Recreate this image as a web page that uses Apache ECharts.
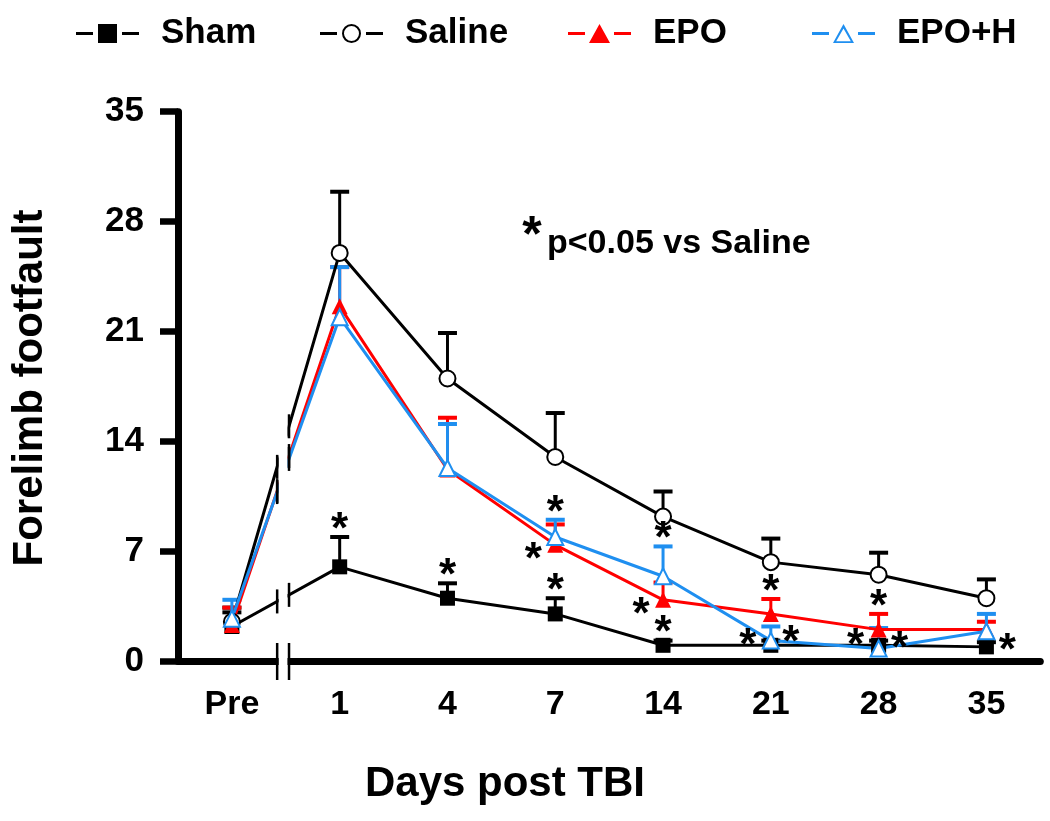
<!DOCTYPE html>
<html><head><meta charset="utf-8">
<script src="https://cdn.jsdelivr.net/npm/echarts@6/dist/echarts.min.js"></script>
<style>html,body{margin:0;padding:0;background:#fff}#chart{width:1050px;height:821px}</style>
</head><body><div id="chart"></div>
<script>
// ---- data ----
const categories = ['Pre', '1', '4', '7', '14', '21', '28', '35'];
const shamMean   = [2.2, 6.0, 4.0, 3.0, 1.0, 1.0, 1.0, 0.9];
const shamErr    = [0.9, 1.9, 0.95, 1.0, 0.3, 0.3, 0.3, 0.3];
const salineMean = [2.5, 26.0, 18.0, 13.0, 9.2, 6.3, 5.5, 4.0];
const salineErr  = [0.9, 3.9, 2.9, 2.8, 1.6, 1.5, 1.4, 1.2];
const epoMean    = [2.3, 22.6, 12.2, 7.4, 3.9, 3.0, 2.0, 2.0];
const epoErr     = [1.1, 2.5, 3.3, 1.3, 1.1, 0.95, 1.0, 0.5];
const epohMean   = [2.7, 21.9, 12.3, 7.9, 5.4, 1.3, 0.8, 1.9];
const epohErr    = [1.2, 3.2, 2.8, 1.1, 1.9, 0.9, 1.3, 1.1];
const yMin = 0, yMax = 35, yInterval = 7;
// significance markers: [category index, group, placement]
const stars = [
  [1, 'sham', 'above'],
  [2, 'sham', 'above'],
  [3, 'sham', 'above'], [3, 'epoh', 'above'], [3, 'epo', 'left'],
  [4, 'epoh', 'above'], [4, 'epo', 'left'], [4, 'sham', 'above'],
  [5, 'epo', 'above'], [5, 'sham', 'sideLeft'], [5, 'sham', 'sideRight'],
  [6, 'epo', 'above'], [6, 'sham', 'sideLeft'], [6, 'sham', 'right'],
  [7, 'sham', 'right']
];
const breakAt = [0.42, 0.53]; // axis break between Pre and day 1 (fraction of step)

// ---- styling ----
const FONT = '"Liberation Sans", Arial, sans-serif';
const DASHES = 'M0,8.5H17V11.5H0Z M46,8.5H63V11.5H46Z ';
const groups = [
  { key: 'sham',   name: 'Sham',   mean: shamMean,   err: shamErr,   color: '#000000', symbol: 'rect',          size: 15, bw: 0,
    icon: 'path://' + DASHES + 'M22,0.5H41V19.5H22Z' },
  { key: 'saline', name: 'Saline', mean: salineMean, err: salineErr, color: '#000000', symbol: 'emptyCircle',   size: 16, bw: 2,
    icon: 'path://' + DASHES + 'M22,10A9.5,9.5 0 1,0 41,10A9.5,9.5 0 1,0 22,10Z M24,10A7.5,7.5 0 1,1 39,10A7.5,7.5 0 1,1 24,10Z' },
  { key: 'epo',    name: 'EPO',    mean: epoMean,    err: epoErr,    color: '#ff0000', symbol: 'triangle',      size: 16, bw: 0,
    icon: 'path://' + DASHES + 'M31.5,0.5L42,19.5H21Z' },
  { key: 'epoh',   name: 'EPO+H',  mean: epohMean,   err: epohErr,   color: '#1f8ff0', symbol: 'emptyTriangle', size: 16, bw: 2,
    icon: 'path://' + DASHES + 'M31.5,0.5L42,19.5H21Z M31.5,5L24.2,17.8H38.8Z' }
];
const byKey = {}; groups.forEach(g => byKey[g.key] = g);
const legendLeft = [76, 320, 568, 812];
// pixel offsets of a star relative to its anchor (error-bar top for 'above', point otherwise)
const PLACE = { above: [0, -16], left: [-22, 6], right: [21, -5], sideLeft: [-23, -8], sideRight: [20, -11] };

const chart = echarts.init(document.getElementById('chart'));

const errSeries = groups.map(g => ({
  type: 'custom', name: g.name + ' err', z: 1, silent: true, animation: false,
  data: g.mean.map((m, i) => [i, m, m + g.err[i]]),
  renderItem(params, api) {
    const i = api.value(0);
    const p0 = api.coord([i, api.value(1)]);
    const p1 = api.coord([i, api.value(2)]);
    return { type: 'group', children: [
      { type: 'line', shape: { x1: p0[0], y1: p0[1], x2: p1[0], y2: p1[1] }, style: { stroke: g.color, lineWidth: 3 } },
      { type: 'line', shape: { x1: p1[0] - 9.5, y1: p1[1], x2: p1[0] + 9.5, y2: p1[1] }, style: { stroke: g.color, lineWidth: 4 } }
    ] };
  }
}));

const lineSeries = groups.map(g => ({
  type: 'line', name: g.name, data: g.mean, z: 3, animation: false,
  symbol: g.symbol, symbolSize: g.size, showAllSymbol: true,
  lineStyle: { color: g.color, width: 3 },
  itemStyle: { color: g.color, borderColor: g.color, borderWidth: g.bw }
}));

const breakSeries = {
  type: 'custom', z: 10, silent: true, animation: false, data: [[0, 0]],
  renderItem(params, api) {
    const b0 = api.coord([0, yMin]), b1 = api.coord([1, yMin]);
    const xL = b0[0] + breakAt[0] * (b1[0] - b0[0]);
    const xR = b0[0] + breakAt[1] * (b1[0] - b0[0]);
    const topY = api.coord([0, yMax])[1];
    const ch = [];
    ch.push({ type: 'rect', shape: { x: xL + 1.5, y: topY, width: xR - xL - 3, height: b0[1] + 22 - topY }, style: { fill: '#fff' } });
    [xL, xR].forEach(x => ch.push({ type: 'line', shape: { x1: x, y1: b0[1] - 18, x2: x, y2: b0[1] + 19 }, style: { stroke: '#000', lineWidth: 2.5 } }));
    groups.forEach(g => {
      const a = api.coord([0, g.mean[0]]), b = api.coord([1, g.mean[1]]);
      breakAt.forEach((f, k) => {
        const x = k ? xR : xL;
        const y = a[1] + f * (b[1] - a[1]);
        ch.push({ type: 'line', shape: { x1: x, y1: y - 12, x2: x, y2: y + 12 }, style: { stroke: '#000', lineWidth: 2.5 } });
      });
    });
    return { type: 'group', children: ch };
  }
};

const STAR_SIZE = 44;
const starSeries = {
  type: 'custom', z: 11, silent: true, animation: false,
  data: stars.map(s => [s[0], 0]),
  renderItem(params, api) {
    const s = stars[params.dataIndex];
    const g = byKey[s[1]], i = s[0];
    const anchor = s[2] === 'above' ? api.coord([i, g.mean[i] + g.err[i]]) : api.coord([i, g.mean[i]]);
    const off = PLACE[s[2]];
    return { type: 'text', x: anchor[0] + off[0], y: anchor[1] + off[1] + 0.22 * STAR_SIZE,
      style: { text: '*', fontSize: STAR_SIZE, fontWeight: 'bold', fontFamily: FONT, fill: '#000', align: 'center', verticalAlign: 'middle' } };
  }
};

chart.setOption({
  animation: false,
  backgroundColor: '#fff',
  grid: { left: 178, top: 111.7, right: 9.7, bottom: 160, containLabel: false },
  legend: groups.map((g, k) => ({
    data: [g.name], left: legendLeft[k], top: 16, padding: 0, itemWidth: 63, itemHeight: 20,
    icon: g.icon, selectedMode: false,
    itemStyle: { borderWidth: 0 },
    textStyle: { fontSize: 35, fontWeight: 'bold', fontFamily: FONT, color: '#000', padding: [0, 0, 0, 17] }
  })),
  xAxis: {
    type: 'category', data: categories, boundaryGap: true,
    axisLine: { lineStyle: { color: '#000', width: 7 } },
    axisTick: { alignWithLabel: true, length: 16, lineStyle: { color: '#000', width: 7 } },
    axisLabel: { margin: 27, color: '#000', fontSize: 34, fontWeight: 'bold', fontFamily: FONT },
    splitLine: { show: false }
  },
  yAxis: {
    type: 'value', min: yMin, max: yMax, interval: yInterval,
    axisLine: { show: true, lineStyle: { color: '#000', width: 7 } },
    axisTick: { show: true, length: 18, lineStyle: { color: '#000', width: 6.5 } },
    axisLabel: { margin: 34, color: '#000', fontSize: 35, fontWeight: 'bold', fontFamily: FONT },
    splitLine: { show: false }
  },
  graphic: [
    { type: 'text', x: 30.5, y: 388, rotation: Math.PI / 2,
      style: { text: 'Forelimb footfault', fontSize: 42, fontWeight: 'bold', fontFamily: FONT, fill: '#000', align: 'center', verticalAlign: 'middle' } },
    { type: 'text', x: 505, y: 784,
      style: { text: 'Days post TBI', fontSize: 42, fontWeight: 'bold', fontFamily: FONT, fill: '#000', align: 'center', verticalAlign: 'middle' } },
    { type: 'text', x: 532, y: 237,
      style: { text: '*', fontSize: 50, fontWeight: 'bold', fontFamily: FONT, fill: '#000', align: 'center', verticalAlign: 'middle' } },
    { type: 'text', x: 547, y: 244,
      style: { text: 'p<0.05 vs Saline', fontSize: 34, fontWeight: 'bold', fontFamily: FONT, fill: '#000', align: 'left', verticalAlign: 'middle' } }
  ],
  series: [...errSeries, ...lineSeries, breakSeries, starSeries]
});
</script>
</body></html>
